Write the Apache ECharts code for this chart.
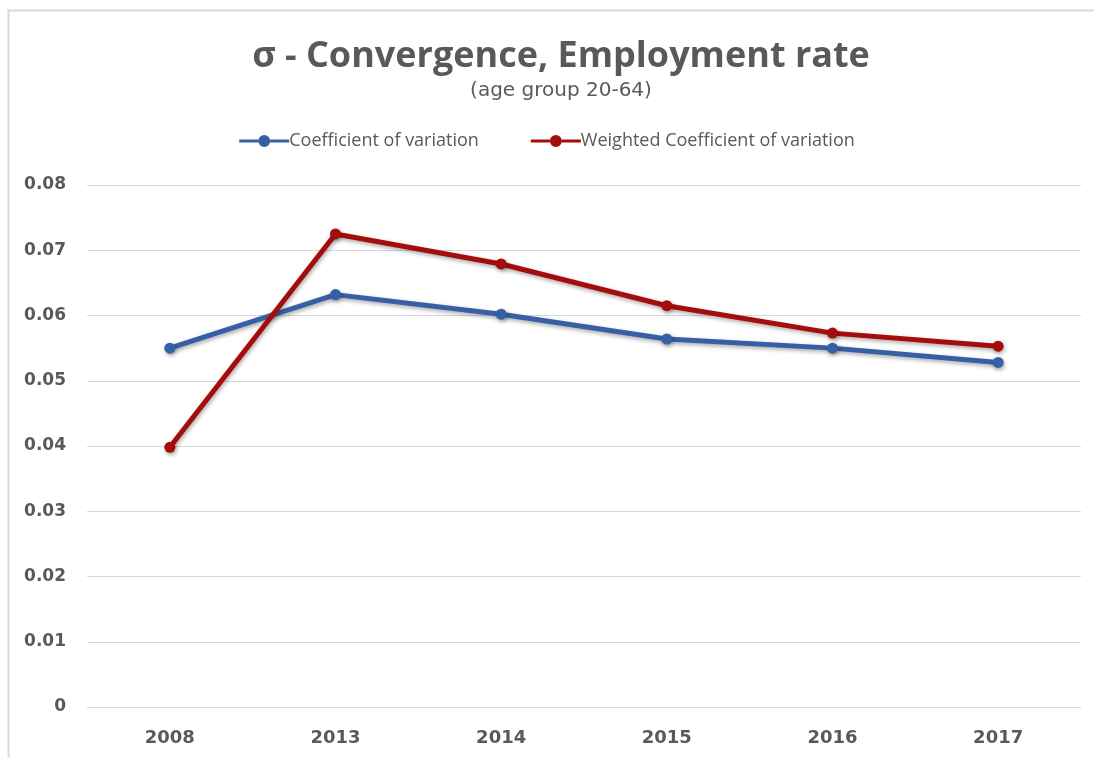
<!DOCTYPE html>
<html>
<head>
<meta charset="utf-8">
<script src="https://cdn.jsdelivr.net/npm/echarts@6/dist/echarts.min.js"></script>
<style>
html,body{margin:0;padding:0;background:#fff;}
#chart{width:1094px;height:758px;}
</style>
</head>
<body>
<div id="chart"></div>
<script>
const categories = ['2008', '2013', '2014', '2015', '2016', '2017'];
const coefVar = [0.0550, 0.0632, 0.0602, 0.0564, 0.0550, 0.0528];
const weightedCoefVar = [0.0398, 0.0725, 0.0679, 0.0615, 0.0573, 0.0553];
const yTicks = { min: 0, max: 0.08, interval: 0.01 };

const chart = echarts.init(document.getElementById('chart'));
const shadow = { shadowColor: 'rgba(0,0,0,0.35)', shadowBlur: 4, shadowOffsetX: 1, shadowOffsetY: 2 };
const legendIcon = 'path://M0,4.5h19v3h-19z M31,4.5h19v3h-19z M19,6a6,6 0 1,0 12,0a6,6 0 1,0 -12,0z';
chart.setOption({
  backgroundColor: '#ffffff',
  animation: false,
  graphic: [{
    type: 'rect', silent: true,
    shape: { x: 8.5, y: 10.5, width: 1200, height: 900 },
    style: { fill: 'none', stroke: '#d9d9d9', lineWidth: 2 }
  }],
  title: {
    text: 'σ - Convergence, Employment rate',
    subtext: '(age group 20-64)',
    left: 556,
    textAlign: 'center',
    top: 34,
    itemGap: 6,
    textStyle: { fontFamily: 'Open Sans', fontWeight: 'bold', fontSize: 36, color: '#595959' },
    subtextStyle: { fontFamily: 'DejaVu Sans', fontSize: 20, color: '#595959' }
  },
  legend: {
    top: 127,
    left: 'center',
    itemGap: 52,
    itemWidth: 50,
    itemHeight: 12,
    icon: legendIcon,
    textStyle: { fontFamily: 'Open Sans', fontSize: 18, color: '#595959', padding: [0, 0, 0, -5] },
    data: ['Coefficient of variation', 'Weighted Coefficient of variation']
  },
  grid: { left: 87, right: 13, top: 185, bottom: 51, containLabel: false },
  xAxis: {
    type: 'category',
    data: categories,
    boundaryGap: true,
    axisLine: { show: true, lineStyle: { color: '#d9d9d9' } },
    axisTick: { show: false },
    axisLabel: { margin: 22, fontFamily: 'DejaVu Sans', fontWeight: 'bold', fontSize: 18, color: '#595959' }
  },
  yAxis: {
    type: 'value',
    min: yTicks.min, max: yTicks.max, interval: yTicks.interval,
    axisLine: { show: false },
    axisTick: { show: false },
    splitLine: { lineStyle: { color: '#d9d9d9', width: 1 } },
    axisLabel: { margin: 21, fontFamily: 'DejaVu Sans', fontWeight: 'bold', fontSize: 17, color: '#595959', formatter: v => v === 0 ? '0' : v.toFixed(2) }
  },
  series: [
    {
      name: 'Coefficient of variation',
      type: 'line',
      data: coefVar,
      symbol: 'circle', symbolSize: 11,
      itemStyle: Object.assign({ color: '#3560a6' }, shadow),
      lineStyle: Object.assign({ color: '#3560a6', width: 5 }, shadow),
      z: 3
    },
    {
      name: 'Weighted Coefficient of variation',
      type: 'line',
      data: weightedCoefVar,
      symbol: 'circle', symbolSize: 11,
      itemStyle: Object.assign({ color: '#a50d0d' }, shadow),
      lineStyle: Object.assign({ color: '#a50d0d', width: 5 }, shadow),
      z: 4
    }
  ]
});
</script>
</body>
</html>
